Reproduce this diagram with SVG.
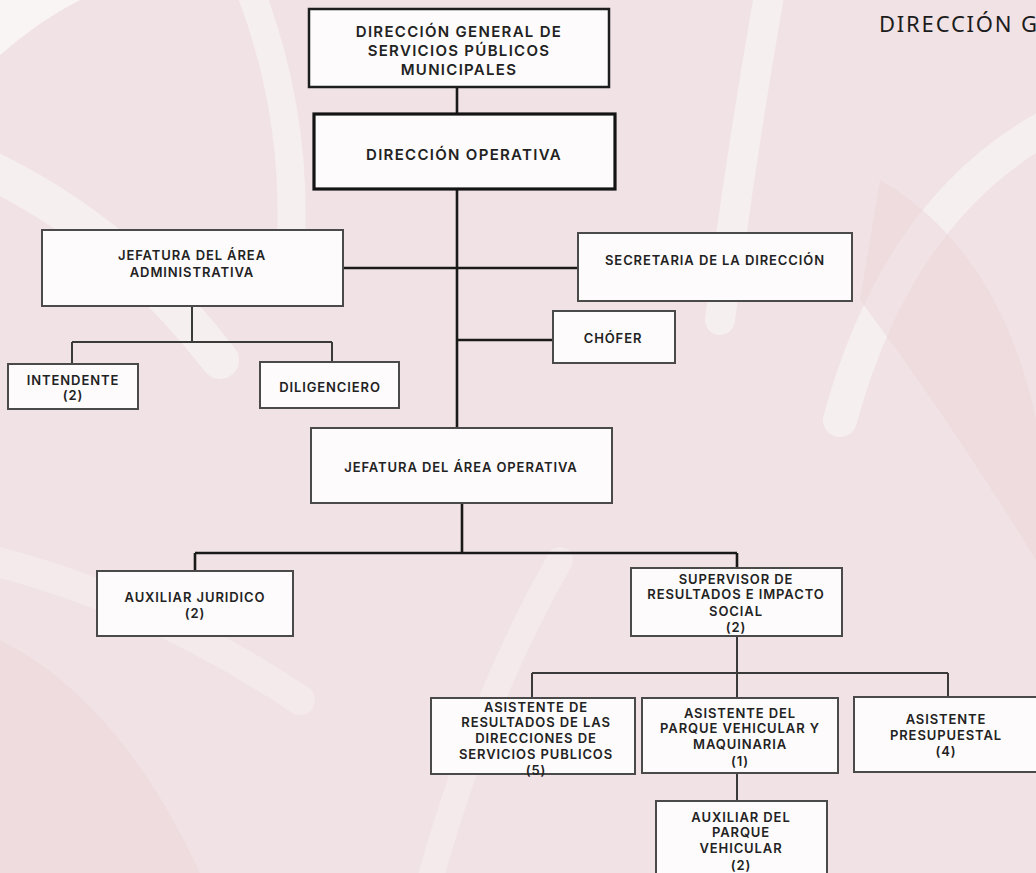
<svg xmlns="http://www.w3.org/2000/svg" width="1036" height="873" viewBox="0 0 1036 873">
<defs>
<style>
.box{fill:#fdfbfb;stroke:#4a4a4a;stroke-width:2}
.boxk{fill:#fdfbfb;stroke:#1e1e1e;stroke-width:2.5}
.boxt{fill:#fdfbfb;stroke:#141414;stroke-width:3.2}
.t{font-family:Inter,"DejaVu Sans",sans-serif;font-weight:600;font-size:13px;letter-spacing:0.9px;fill:#222;text-anchor:middle}
.tb{font-size:15px;letter-spacing:1.3px}
.c{fill:none;stroke:#1a1a1a;stroke-width:2.6}
.c2{fill:none;stroke:#3a3a3a;stroke-width:2}
.w{fill:none;stroke:#faf6f6;stroke-linecap:round}
</style>
</defs>
<g id="background">
<rect x="0" y="0" width="1036" height="873" fill="#f1e3e5"/>
<path d="M0,0 L80,0 Q40,20 0,55 Z" fill="#f9f5f5"/>
<path class="w" d="M-20,165 Q120,230 220,360" stroke-width="38" opacity="0.6"/>
<path class="w" d="M250,-10 Q300,120 290,260" stroke-width="28" opacity="0.6"/>
<path class="w" d="M770,-10 Q740,160 720,320" stroke-width="30" opacity="0.6"/>
<path class="w" d="M1060,120 Q900,200 840,420" stroke-width="34" opacity="0.6"/>
<path class="w" d="M560,560 Q480,700 430,880" stroke-width="26" opacity="0.35"/>
<path class="w" d="M-10,560 Q150,600 300,700" stroke-width="30" opacity="0.35"/>
<path d="M880,180 Q1000,250 1036,420 L1036,560 Q950,420 860,300 Z" fill="#ecd6da" opacity="0.5"/>
<path d="M0,640 Q120,700 200,873 L0,873 Z" fill="#ecd6da" opacity="0.5"/>
</g>
<g id="connectors">
<path class="c" d="M457,87 V114"/>
<path class="c" d="M457,189 V428"/>
<path class="c" d="M343,268 H578"/>
<path class="c" d="M457,340 H553"/>
<path class="c2" d="M192,306 V342 M72,342 H332 M72,342 V364 M332,342 V362"/>
<path class="c" d="M462,503 V553 M195,553 H737 M195,553 V571 M737,553 V568"/>
<path class="c2" d="M737,636 V698 M532,673 H948 M532,673 V698 M948,673 V697 M737,773 V801"/>
</g>
<g id="n-direccion-general">
<rect class="boxk" x="309" y="9" width="300" height="78"/>
<text class="t tb" x="459" y="37">DIRECCIÓN GENERAL DE</text>
<text class="t tb" x="459" y="56">SERVICIOS PÚBLICOS</text>
<text class="t tb" x="459" y="75">MUNICIPALES</text>
</g>
<g id="n-direccion-operativa">
<rect class="boxt" x="314" y="114" width="301" height="75"/>
<text class="t tb" x="464" y="159.5">DIRECCIÓN OPERATIVA</text>
</g>
<g id="n-jefatura-administrativa">
<rect class="box" x="42" y="230" width="301" height="76"/>
<text class="t" x="192" y="260">JEFATURA DEL ÁREA</text>
<text class="t" x="192" y="277">ADMINISTRATIVA</text>
</g>
<g id="n-secretaria">
<rect class="box" x="578" y="233" width="274" height="68"/>
<text class="t" x="715" y="264.5">SECRETARIA DE LA DIRECCIÓN</text>
</g>
<g id="n-chofer">
<rect class="box" x="553" y="311" width="122" height="52"/>
<text class="t" x="613" y="342.5">CHÓFER</text>
</g>
<g id="n-intendente">
<rect class="box" x="8" y="364" width="130" height="45"/>
<text class="t" x="73" y="384.5">INTENDENTE</text>
<text class="t" x="73" y="399.5">(2)</text>
</g>
<g id="n-diligenciero">
<rect class="box" x="260" y="362" width="139" height="46"/>
<text class="t" x="330" y="391.5">DILIGENCIERO</text>
</g>
<g id="n-jefatura-operativa">
<rect class="box" x="311" y="428" width="301" height="75"/>
<text class="t" x="461" y="471.5">JEFATURA DEL ÁREA OPERATIVA</text>
</g>
<g id="n-auxiliar-juridico">
<rect class="box" x="97" y="571" width="196" height="65"/>
<text class="t" x="195" y="601.5">AUXILIAR JURIDICO</text>
<text class="t" x="195" y="617.5">(2)</text>
</g>
<g id="n-supervisor">
<rect class="box" x="631" y="568" width="211" height="68"/>
<text class="t" x="736" y="583.5">SUPERVISOR DE</text>
<text class="t" x="736" y="598.5">RESULTADOS E IMPACTO</text>
<text class="t" x="736" y="615.5">SOCIAL</text>
<text class="t" x="736" y="631.5">(2)</text>
</g>
<g id="n-asistente-resultados">
<rect class="box" x="431" y="698" width="204" height="76"/>
<text class="t" x="536" y="711.5">ASISTENTE  DE</text>
<text class="t" x="536" y="726.5">RESULTADOS DE LAS</text>
<text class="t" x="536" y="742.5">DIRECCIONES DE</text>
<text class="t" x="536" y="758.5">SERVICIOS PUBLICOS</text>
<text class="t" x="536" y="774.5">(5)</text>
</g>
<g id="n-asistente-parque">
<rect class="box" x="642" y="698" width="196" height="75"/>
<text class="t" x="740" y="717.5">ASISTENTE DEL</text>
<text class="t" x="740" y="732.5">PARQUE VEHICULAR Y</text>
<text class="t" x="740" y="748.5">MAQUINARIA</text>
<text class="t" x="740" y="765.5">(1)</text>
</g>
<g id="n-asistente-presupuestal">
<rect class="box" x="854" y="697" width="200" height="75"/>
<text class="t" x="946" y="723.5">ASISTENTE</text>
<text class="t" x="946" y="739.5">PRESUPUESTAL</text>
<text class="t" x="946" y="755.5">(4)</text>
</g>
<g id="n-auxiliar-parque">
<rect class="box" x="656" y="801" width="171" height="90"/>
<text class="t" x="741" y="821.5">AUXILIAR DEL</text>
<text class="t" x="741" y="836.5">PARQUE</text>
<text class="t" x="741" y="852.5">VEHICULAR</text>
<text class="t" x="741" y="869.5">(2)</text>
</g>
<g id="title">
<text x="879" y="32" font-family="'Noto Sans','Open Sans',sans-serif" font-size="22" letter-spacing="1.8" fill="#1c1c1c">DIRECCIÓN G</text>
</g>
</svg>
